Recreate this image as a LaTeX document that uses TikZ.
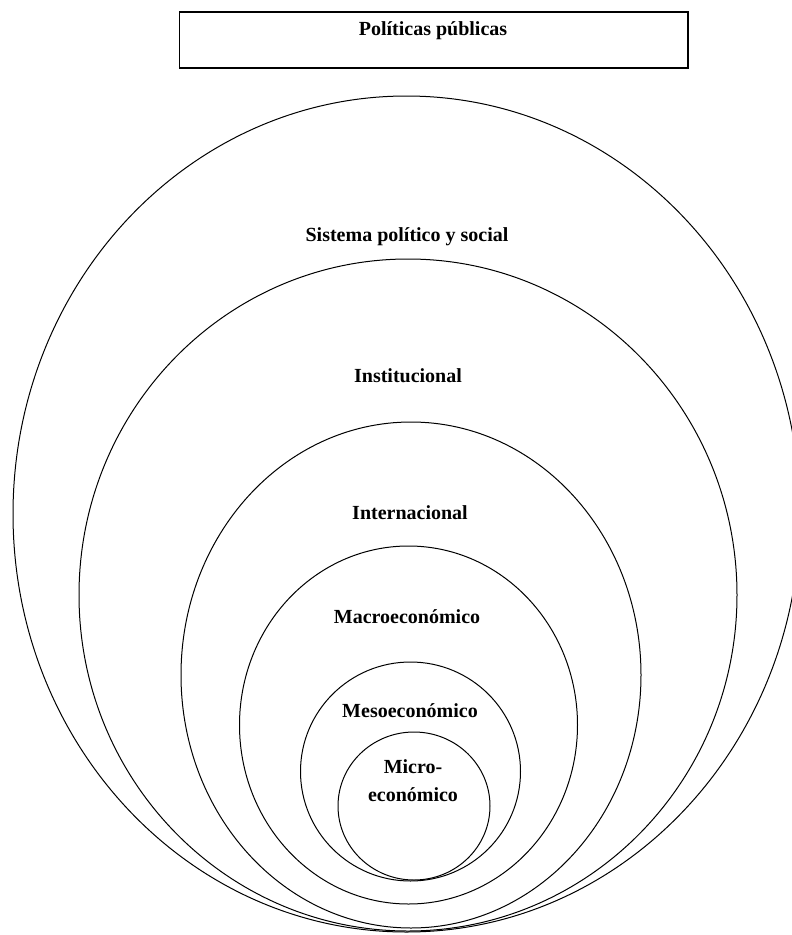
\documentclass[tikz,border=0pt]{standalone}
\usepackage{fontspec}
\setmainfont{Liberation Serif}
\tikzset{
  ring/.style={draw=black,line width=1.0pt},
  lbl/.style={font=\bfseries\fontsize{20}{28}\selectfont,align=center}
}
\begin{document}
\begin{tikzpicture}[y=1pt,x=1pt,yscale=-1, inner sep=0pt, outer sep=0pt]
\useasboundingbox (0,0) rectangle (792,935);

\path[draw=black,line width=1.6pt] (179.5,12.0) rectangle (688.0,68.0);
\path (433.0,31.0) node[lbl] (txtpol) {Políticas públicas};

\path[ring] (406.5,514.0) ellipse (393.5 and 418.0);
\path (407.0,237.0) node[lbl] (txtsis) {Sistema político y social};

\path[ring] (408.0,595.0) ellipse (329.0 and 336.0);
\path (408.0,376.0) node[lbl] (txtins) {Institucional};

\path[ring] (411.0,675.0) ellipse (230.0 and 253.0);
\path (410.0,513.0) node[lbl] (txtint) {Internacional};

\path[ring] (408.5,725.0) ellipse (169.0 and 179.0);
\path (407.0,617.0) node[lbl] (txtmac) {Macroeconómico};

\path[ring] (410.5,771.5) ellipse (110.0 and 109.5);
\path (410.0,711.0) node[lbl] (txtmes) {Mesoeconómico};

\path[ring] (414.0,806.0) ellipse (76.0 and 74.0);
\path (413.0,781.0) node[lbl] (txtmic) {Micro-\\económico};

\end{tikzpicture}
\end{document}
